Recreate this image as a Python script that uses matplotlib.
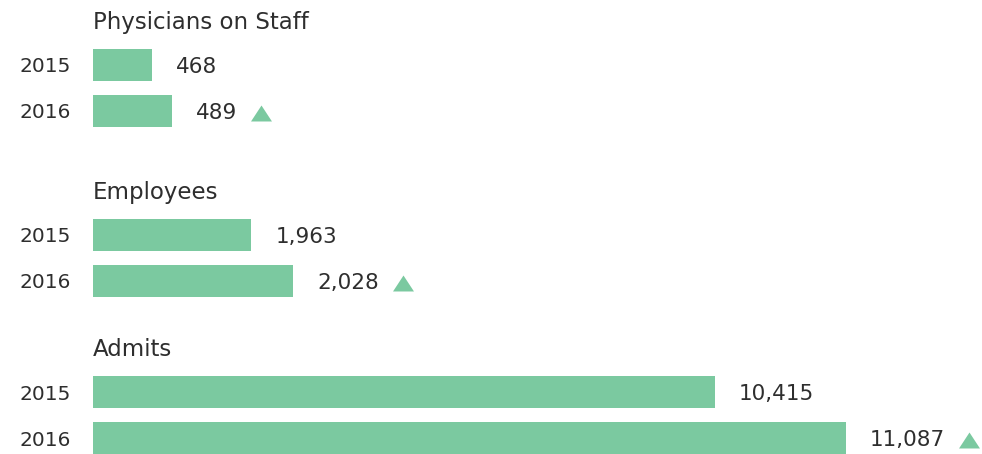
import numpy as np
import matplotlib.pyplot as plt
from matplotlib.lines import Line2D
from matplotlib.transforms import IdentityTransform

plt.rcParams['font.family'] = ['DejaVu Sans']

# data
groups = ['Physicians on Staff', 'Employees', 'Admits']
years = ['2015', '2016']
values = [[468, 489], [1963, 2028], [10415, 11087]]
labels = [['468', '489'], ['1,963', '2,028'], ['10,415', '11,087']]
rising = [True, True, True]

# each panel has its own axis start / end (the bars don't start at zero)
x_ranges = [(406, 1340), (1718, 3094), (7224, 11784)]
tops_px = [42, 212, 369]   # top of each panel in pixels

green = '#7BC9A0'
txt = '#2e2e2e'
W, H = 982, 454

fig = plt.figure(figsize=(W / 100, H / 100), dpi=100)
up_texts = []

for g in range(3):
    top = tops_px[g]
    ax = fig.add_axes([93 / W, 1 - (top + 92) / H, 889 / W, 92 / H])
    base = x_ranges[g][0]
    vals = np.array(values[g])
    ypos = np.arange(len(years))
    ax.barh(ypos, vals - base, left=base, height=32 / 46, color=green)
    ax.set_xlim(*x_ranges[g])
    ax.set_ylim(1.5, -0.5)
    ax.set_yticks(ypos)
    ax.set_yticklabels(years, fontsize=14.5, color=txt)
    ax.tick_params(axis='y', length=0, pad=16)
    ax.tick_params(axis='x', bottom=False, labelbottom=False)
    for s in ax.spines.values():
        s.set_visible(False)
    ax.patch.set_alpha(0)

    ax.annotate(groups[g], xy=(0, 1), xycoords='axes fraction',
                xytext=(0, 13), textcoords='offset pixels',
                ha='left', va='baseline', fontsize=16.5, color=txt)

    for i in range(len(years)):
        t = ax.annotate(labels[g][i], xy=(vals[i], ypos[i]),
                        xytext=(24, -2), textcoords='offset pixels',
                        ha='left', va='center', fontsize=15.5, color=txt)
        if i == 1 and rising[g]:
            up_texts.append(t)

# up-arrow triangles just after the 2016 value labels
fig.canvas.draw()
r = fig.canvas.get_renderer()
tri = [(-10.5, -8), (10.5, -8), (0, 8), (-10.5, -8)]
for t in up_texts:
    bb = t.get_window_extent(r)
    cx = bb.x1 + 13 + 10.5
    cy = (bb.y0 + bb.y1) / 2
    fig.add_artist(Line2D([cx], [cy], transform=IdentityTransform(),
                          marker=tri, markersize=15.1, color=green,
                          markeredgewidth=0, linestyle='none'))

fig.savefig('out.png', dpi=100)
